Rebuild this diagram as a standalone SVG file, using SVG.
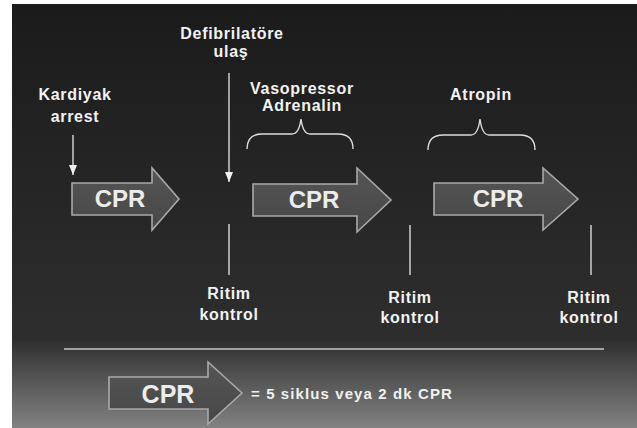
<svg xmlns="http://www.w3.org/2000/svg" width="637" height="428" viewBox="0 0 637 428">
<defs>
<linearGradient id="bgTop" x1="0" y1="0" x2="0" y2="1">
<stop offset="0" stop-color="#1b1b1b"/>
<stop offset="1" stop-color="#2e2e2e"/>
</linearGradient>
<linearGradient id="bgBot" x1="0" y1="0" x2="0" y2="1">
<stop offset="0" stop-color="#2e2e2e"/>
<stop offset="0.15" stop-color="#3c3c3c"/>
<stop offset="1" stop-color="#828282"/>
</linearGradient>
<linearGradient id="arrowFill" x1="0" y1="0" x2="0" y2="1">
<stop offset="0" stop-color="#555555"/>
<stop offset="1" stop-color="#474747"/>
</linearGradient>
<marker id="down" viewBox="0 0 10 8" refX="10" refY="4" markerWidth="10" markerHeight="8" markerUnits="userSpaceOnUse" orient="auto">
<path d="M0,0 L10,4 L0,8 Z" fill="#f0f0f0"/>
</marker>
<style>
.lbl{font-family:"Liberation Sans",Arial,sans-serif;font-weight:bold;font-size:16px;fill:#f2f2f2;letter-spacing:0.7px;text-anchor:middle}
.cpr{font-family:"Liberation Sans",Arial,sans-serif;font-weight:bold;font-size:24px;fill:#ececec;text-anchor:middle}
.arrow{fill:url(#arrowFill);stroke:#a9a9a9;stroke-width:1.6;stroke-linejoin:miter}
.ln{stroke:#e8e8e8;stroke-width:1.3;fill:none}
.brace{stroke:#dcdcdc;stroke-width:1.4;fill:none}
</style>
</defs>
<rect x="0" y="0" width="637" height="428" fill="#ffffff"/>
<rect x="12" y="4" width="625" height="337" fill="url(#bgTop)"/>
<rect x="12" y="340" width="625" height="88" fill="url(#bgBot)"/>

<g id="connectors">
<line class="ln" x1="73" y1="135" x2="73" y2="175" marker-end="url(#down)"/>
<line class="ln" x1="229" y1="73" x2="229" y2="182" marker-end="url(#down)"/>
<line class="ln" x1="229" y1="224" x2="229" y2="275"/>
<line class="ln" x1="410" y1="225" x2="410" y2="275"/>
<line class="ln" x1="591" y1="225" x2="591" y2="275"/>
<path class="brace" d="M247,149 Q247,134 262,134 L292,134 Q299,134 301,119 Q303,134 310,134 L338,134 Q353,134 353,149"/>
<path class="brace" d="M428,150 Q428,135 443,135 L471,135 Q478,135 480,119 Q482,135 489,135 L520,135 Q535,135 535,150"/>
<line x1="64" y1="349" x2="604" y2="349" stroke="#c8c8c8" stroke-width="1.6"/>
</g>

<g id="label-kardiyak">
<text class="lbl" x="75" y="100">Kardiyak</text>
<text class="lbl" x="75" y="122">arrest</text>
</g>
<g id="label-defib">
<text class="lbl" x="232" y="39">Defibrilatöre</text>
<text class="lbl" x="231" y="57">ulaş</text>
</g>
<g id="label-vasopressor">
<text class="lbl" x="302" y="94">Vasopressor</text>
<text class="lbl" x="302" y="111">Adrenalin</text>
</g>
<g id="label-atropin">
<text class="lbl" x="481" y="100">Atropin</text>
</g>

<g id="cpr1">
<polygon class="arrow" points="72,183 152,183 152,168 179,199 152,230 152,215 72,215"/>
<text class="cpr" x="120" y="207">CPR</text>
</g>
<g id="cpr2">
<polygon class="arrow" points="253,184 357,184 357,168 391,200 357,232 357,216 253,216"/>
<text class="cpr" x="314" y="208">CPR</text>
</g>
<g id="cpr3">
<polygon class="arrow" points="434,183 543,183 543,168 578,199 543,230 543,215 434,215"/>
<text class="cpr" x="498" y="207">CPR</text>
</g>

<g id="ritim1">
<text class="lbl" x="229" y="299">Ritim</text>
<text class="lbl" x="229" y="320">kontrol</text>
</g>
<g id="ritim2">
<text class="lbl" x="410" y="303">Ritim</text>
<text class="lbl" x="410" y="323">kontrol</text>
</g>
<g id="ritim3">
<text class="lbl" x="589" y="303">Ritim</text>
<text class="lbl" x="589" y="323">kontrol</text>
</g>

<g id="legend">
<polygon class="arrow" points="109,377 208,377 208,362 242,393 208,424 208,409 109,409"/>
<text class="cpr" x="168" y="403" style="font-size:25px">CPR</text>
<text x="251" y="399" style="font-family:'Liberation Sans',Arial,sans-serif;font-weight:bold;font-size:15px;fill:#f0f0f0;letter-spacing:1.1px">= 5 siklus veya 2 dk CPR</text>
</g>
</svg>
